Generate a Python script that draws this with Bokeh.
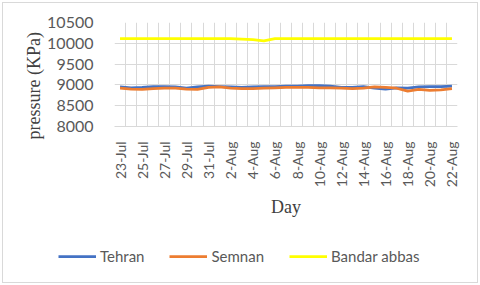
import math
from bokeh.plotting import figure
from bokeh.layouts import column
from bokeh.models import FixedTicker, Legend, LegendItem, Range1d
from bokeh.embed import file_html
from bokeh.resources import INLINE

days = ["23-Jul", "24-Jul", "25-Jul", "26-Jul", "27-Jul", "28-Jul", "29-Jul", "30-Jul", "31-Jul",
        "1-Aug", "2-Aug", "3-Aug", "4-Aug", "5-Aug", "6-Aug", "7-Aug", "8-Aug", "9-Aug", "10-Aug",
        "11-Aug", "12-Aug", "13-Aug", "14-Aug", "15-Aug", "16-Aug", "17-Aug", "18-Aug", "19-Aug",
        "20-Aug", "21-Aug", "22-Aug"]
tehran = [8950, 8930, 8940, 8960, 8960, 8950, 8920, 8950, 8970, 8960, 8950, 8940, 8950, 8960,
          8960, 8970, 8970, 8980, 8980, 8970, 8940, 8940, 8960, 8920, 8900, 8930, 8920, 8950,
          8960, 8960, 8970]
semnan = [8920, 8900, 8890, 8910, 8920, 8920, 8900, 8890, 8940, 8950, 8920, 8910, 8910, 8920,
          8930, 8940, 8940, 8940, 8930, 8930, 8920, 8910, 8920, 8950, 8940, 8920, 8850, 8890,
          8870, 8880, 8910]
bandar = [10110, 10110, 10110, 10110, 10110, 10110, 10110, 10110, 10110, 10110, 10110, 10100,
          10090, 10060, 10110, 10110, 10110, 10110, 10110, 10110, 10110, 10110, 10110, 10110,
          10110, 10110, 10110, 10110, 10110, 10110, 10110]
y_ticks = [8000, 8500, 9000, 9500, 10000, 10500]
series_names = ["Tehran", "Semnan", "Bandar abbas"]
series_colors = ["#4472C4", "#ED7D31", "#FFFF00"]

xs = list(range(len(days)))

p = figure(width=474, height=237, output_backend="svg", toolbar_location=None,
           x_range=Range1d(-0.5, len(days) - 0.5), y_range=Range1d(8000, 10500),
           min_border_left=111, min_border_right=20, min_border_top=19, min_border_bottom=114)
p.outline_line_color = None
p.frame_align = False

for vals, col in zip([tehran, semnan, bandar], series_colors):
    p.line(xs, vals, line_color=col, line_width=2.75)

# x axis
p.xaxis.ticker = FixedTicker(ticks=xs[::2])
p.xaxis.major_label_overrides = {i: d for i, d in enumerate(days)}
p.xaxis.major_label_orientation = math.pi / 2
p.xaxis.major_tick_line_color = None
p.xaxis.minor_tick_line_color = None
p.xaxis.axis_line_color = "#d9d9d9"
p.xaxis.major_label_text_font = "Lato"
p.xaxis.major_label_text_font_size = "14px"
p.xaxis.major_label_text_color = "#595959"
p.xaxis.major_label_standoff = 9
p.xaxis.axis_label = "Day"
p.xaxis.axis_label_text_font = "Liberation Serif"
p.xaxis.axis_label_text_font_style = "normal"
p.xaxis.axis_label_text_font_size = "18px"
p.xaxis.axis_label_text_color = "#404040"
p.xaxis.axis_label_standoff = 7

# y axis
p.yaxis.ticker = FixedTicker(ticks=y_ticks)
p.yaxis.major_tick_line_color = None
p.yaxis.minor_tick_line_color = None
p.yaxis.axis_line_color = None
p.yaxis.major_label_text_font = "Lato"
p.yaxis.major_label_text_font_size = "16px"
p.yaxis.major_label_text_color = "#595959"
p.yaxis.major_label_standoff = 15
p.yaxis.axis_label = "pressure (KPa)" + "\u00a0" * 5
p.yaxis.axis_label_text_font = "Liberation Serif"
p.yaxis.axis_label_text_font_style = "normal"
p.yaxis.axis_label_text_font_size = "18px"
p.yaxis.axis_label_text_color = "#404040"
p.yaxis.axis_label_standoff = 0

# grids
p.xgrid.ticker = FixedTicker(ticks=[i - 0.5 for i in range(len(days) + 1)])
p.xgrid.grid_line_color = "#d9d9d9"
p.ygrid.ticker = FixedTicker(ticks=y_ticks)
p.ygrid.grid_line_color = "#d9d9d9"

# legend panel
p2 = figure(width=474, height=42, output_backend="svg", toolbar_location=None,
            x_axis_type=None, y_axis_type=None, min_border=0,
            x_range=Range1d(0, 1), y_range=Range1d(0, 1))
p2.outline_line_color = None
p2.frame_align = False
p2.xgrid.visible = False
p2.ygrid.visible = False
items = []
for name, col in zip(series_names, series_colors):
    r = p2.line([5, 6], [5, 5], line_color=col, line_width=2.75)
    items.append(LegendItem(label=name, renderers=[r]))
legend = Legend(items=items, orientation="horizontal", location=(55, 16), glyph_width=38,
                label_standoff=4, spacing=25, padding=0, margin=0,
                border_line_color=None, background_fill_alpha=0,
                label_text_font="Lato", label_text_font_size="15px",
                label_text_color="#595959")
p2.add_layout(legend, "center")

layout = column(p, p2, spacing=0)
layout.styles = {"border": "1px solid #d9d9d9", "margin": "2px"}
open("out.html", "w").write(file_html(layout, INLINE))
